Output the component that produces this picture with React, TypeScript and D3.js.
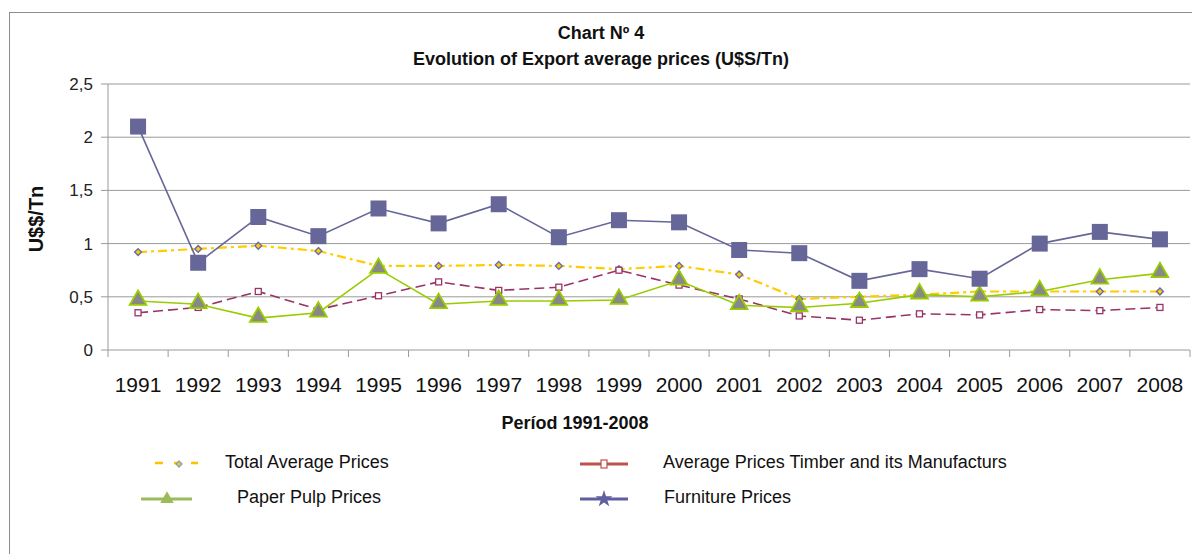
import { useEffect, useRef } from 'react';
import * as d3 from 'd3';

const years = ['1991', '1992', '1993', '1994', '1995', '1996', '1997', '1998', '1999', '2000', '2001', '2002', '2003', '2004', '2005', '2006', '2007', '2008'];
const totalAvg = [0.92, 0.95, 0.98, 0.93, 0.79, 0.79, 0.80, 0.79, 0.76, 0.79, 0.71, 0.48, 0.50, 0.52, 0.55, 0.55, 0.55, 0.55];
const timber = [0.35, 0.40, 0.55, 0.38, 0.51, 0.64, 0.56, 0.59, 0.75, 0.61, 0.48, 0.32, 0.28, 0.34, 0.33, 0.38, 0.37, 0.40];
const pulp = [0.46, 0.43, 0.30, 0.35, 0.76, 0.43, 0.46, 0.46, 0.47, 0.65, 0.42, 0.40, 0.44, 0.52, 0.50, 0.55, 0.66, 0.72];
const furniture = [2.10, 0.82, 1.25, 1.07, 1.33, 1.19, 1.37, 1.06, 1.22, 1.20, 0.94, 0.91, 0.65, 0.76, 0.67, 1.00, 1.11, 1.04];
const yTicks = [0, 0.5, 1, 1.5, 2, 2.5];

const FONT = 'Liberation Sans, Arial, sans-serif';

const App = () => {
    const svgRef = useRef<SVGSVGElement | null>(null);

    useEffect(() => {
        if (!svgRef.current) return;
        const svg = d3.select(svgRef.current);
        svg.selectAll('*').remove();

        const plot = { left: 108, right: 1190, top: 84, bottom: 350 };

        // outer frame
        svg.append('rect')
            .attr('x', 9.5).attr('y', 12.5)
            .attr('width', 1200).attr('height', 600)
            .attr('fill', 'white')
            .attr('stroke', '#8c8c8c').attr('stroke-width', 1);

        const x = d3.scaleBand().domain(years).range([plot.left, plot.right]);
        const y = d3.scaleLinear().domain([0, 2.5]).range([plot.bottom, plot.top]);
        const cx = (i: number) => (x(years[i]) as number) + x.bandwidth() / 2;

        // gridlines
        svg.append('g')
            .selectAll('line')
            .data(yTicks.filter(t => t > 0))
            .enter()
            .append('line')
            .attr('x1', plot.left).attr('x2', plot.right)
            .attr('y1', d => y(d)).attr('y2', d => y(d))
            .attr('stroke', '#9a9a9a').attr('stroke-width', 1);

        // y axis
        svg.append('line')
            .attr('x1', plot.left).attr('x2', plot.left)
            .attr('y1', plot.top).attr('y2', plot.bottom)
            .attr('stroke', '#9a9a9a');
        svg.append('g')
            .selectAll('line')
            .data(yTicks)
            .enter()
            .append('line')
            .attr('x1', plot.left - 7).attr('x2', plot.left)
            .attr('y1', d => y(d)).attr('y2', d => y(d))
            .attr('stroke', '#9a9a9a');
        svg.append('g')
            .selectAll('text')
            .data(yTicks)
            .enter()
            .append('text')
            .attr('x', plot.left - 15)
            .attr('y', d => y(d) + 6)
            .attr('text-anchor', 'end')
            .attr('font-family', FONT)
            .attr('font-size', 17)
            .attr('fill', '#222')
            .text(d => String(d).replace('.', ','));

        // x axis
        svg.append('line')
            .attr('x1', plot.left).attr('x2', plot.right)
            .attr('y1', plot.bottom).attr('y2', plot.bottom)
            .attr('stroke', '#9a9a9a');
        svg.append('g')
            .selectAll('line')
            .data(d3.range(years.length + 1))
            .enter()
            .append('line')
            .attr('x1', i => plot.left + i * x.bandwidth())
            .attr('x2', i => plot.left + i * x.bandwidth())
            .attr('y1', plot.bottom).attr('y2', plot.bottom + 7)
            .attr('stroke', '#9a9a9a');
        svg.append('g')
            .selectAll('text')
            .data(years)
            .enter()
            .append('text')
            .attr('x', (d, i) => cx(i))
            .attr('y', 392)
            .attr('text-anchor', 'middle')
            .attr('font-family', FONT)
            .attr('font-size', 21)
            .attr('fill', '#111')
            .text(d => d);

        // titles
        const title = svg.append('text')
            .attr('text-anchor', 'middle')
            .attr('font-family', FONT)
            .attr('font-weight', 700)
            .attr('font-size', 18)
            .attr('fill', '#111');
        title.append('tspan').attr('x', 601).attr('y', 39).text('Chart Nº 4');
        title.append('tspan').attr('x', 601).attr('y', 65).text('Evolution of Export average prices (U$S/Tn)');

        svg.append('text')
            .attr('transform', 'translate(43,219) rotate(-90)')
            .attr('text-anchor', 'middle')
            .attr('font-family', FONT)
            .attr('font-weight', 700)
            .attr('font-size', 20)
            .attr('fill', '#111')
            .text('U$$/Tn');

        svg.append('text')
            .attr('x', 575).attr('y', 429)
            .attr('text-anchor', 'middle')
            .attr('font-family', FONT)
            .attr('font-weight', 700)
            .attr('font-size', 18)
            .attr('fill', '#111')
            .text('Períod 1991-2008');

        const line = (vals: number[]) => d3.line<number>()
            .x((d, i) => cx(i))
            .y(d => y(d))(vals);

        // Total average prices
        svg.append('path')
            .attr('d', line(totalAvg))
            .attr('fill', 'none')
            .attr('stroke', '#ffcc00').attr('stroke-width', 2.2)
            .attr('stroke-dasharray', '9,4,3,4');
        svg.append('g').selectAll('path')
            .data(totalAvg).enter().append('path')
            .attr('d', d3.symbol(d3.symbolDiamond2, 30)())
            .attr('transform', (d, i) => `translate(${cx(i)},${y(d)})`)
            .attr('fill', '#ffcc00').attr('stroke', '#6b6ba8').attr('stroke-width', 1.4);

        // Timber
        svg.append('path')
            .attr('d', line(timber))
            .attr('fill', 'none')
            .attr('stroke', '#993366').attr('stroke-width', 1.6)
            .attr('stroke-dasharray', '10,5');
        svg.append('g').selectAll('rect')
            .data(timber).enter().append('rect')
            .attr('x', (d, i) => cx(i) - 3).attr('y', d => y(d) - 3)
            .attr('width', 6).attr('height', 6)
            .attr('fill', 'white').attr('stroke', '#993366').attr('stroke-width', 1.3);

        // Paper pulp
        svg.append('path')
            .attr('d', line(pulp))
            .attr('fill', 'none')
            .attr('stroke', '#99cc00').attr('stroke-width', 1.6);
        svg.append('g').selectAll('path')
            .data(pulp).enter().append('path')
            .attr('d', d3.symbol(d3.symbolTriangle, 120)())
            .attr('transform', (d, i) => `translate(${cx(i)},${y(d) - 1})`)
            .attr('fill', '#888888').attr('stroke', '#99cc00').attr('stroke-width', 1.8);

        // Furniture
        svg.append('path')
            .attr('d', line(furniture))
            .attr('fill', 'none')
            .attr('stroke', '#666699').attr('stroke-width', 1.6);
        svg.append('g').selectAll('rect')
            .data(furniture).enter().append('rect')
            .attr('x', (d, i) => cx(i) - 8).attr('y', d => y(d) - 8)
            .attr('width', 16).attr('height', 16)
            .attr('fill', '#666699');

        // Legend
        const legend = svg.append('g');
        const legText = (lx: number, ly: number, t: string) => legend.append('text')
            .attr('x', lx).attr('y', ly)
            .attr('font-family', FONT).attr('font-size', 18).attr('fill', '#111')
            .text(t);

        // total
        legend.append('line').attr('x1', 155).attr('x2', 198).attr('y1', 463).attr('y2', 463)
            .attr('stroke', '#ffc000').attr('stroke-width', 2.5).attr('stroke-dasharray', '8,11,6,11');
        legend.append('path').attr('d', d3.symbol(d3.symbolDiamond2, 24)())
            .attr('transform', 'translate(179,464)')
            .attr('fill', '#ffc000').attr('stroke', '#7f9fcf').attr('stroke-width', 1.2);
        legText(225, 468, 'Total Average Prices');

        // timber
        legend.append('line').attr('x1', 580).attr('x2', 628).attr('y1', 464).attr('y2', 464)
            .attr('stroke', '#c0504d').attr('stroke-width', 3);
        legend.append('rect').attr('x', 601).attr('y', 460).attr('width', 6).attr('height', 8)
            .attr('fill', 'white').attr('stroke', '#c0504d').attr('stroke-width', 1.2);
        legText(663, 468, 'Average Prices Timber and its Manufacturs');

        // pulp
        legend.append('line').attr('x1', 141).attr('x2', 192).attr('y1', 499).attr('y2', 499)
            .attr('stroke', '#9bbb59').attr('stroke-width', 3);
        legend.append('path').attr('d', d3.symbol(d3.symbolTriangle, 80)())
            .attr('transform', 'translate(167,499)')
            .attr('fill', '#9bbb59');
        legText(237, 503, 'Paper Pulp Prices');

        // furniture
        legend.append('line').attr('x1', 580).attr('x2', 628).attr('y1', 499).attr('y2', 499)
            .attr('stroke', '#5f5f9f').attr('stroke-width', 3);
        legend.append('path').attr('d', d3.symbol(d3.symbolStar, 90)())
            .attr('transform', 'translate(604,499)')
            .attr('fill', '#5f5f9f');
        legText(664, 503, 'Furniture Prices');
    }, []);

    return (
        <svg ref={svgRef} width={1192} height={554}
            style={{ position: 'absolute', left: 0, top: 0, display: 'block' }} />
    );
};

export default App;
